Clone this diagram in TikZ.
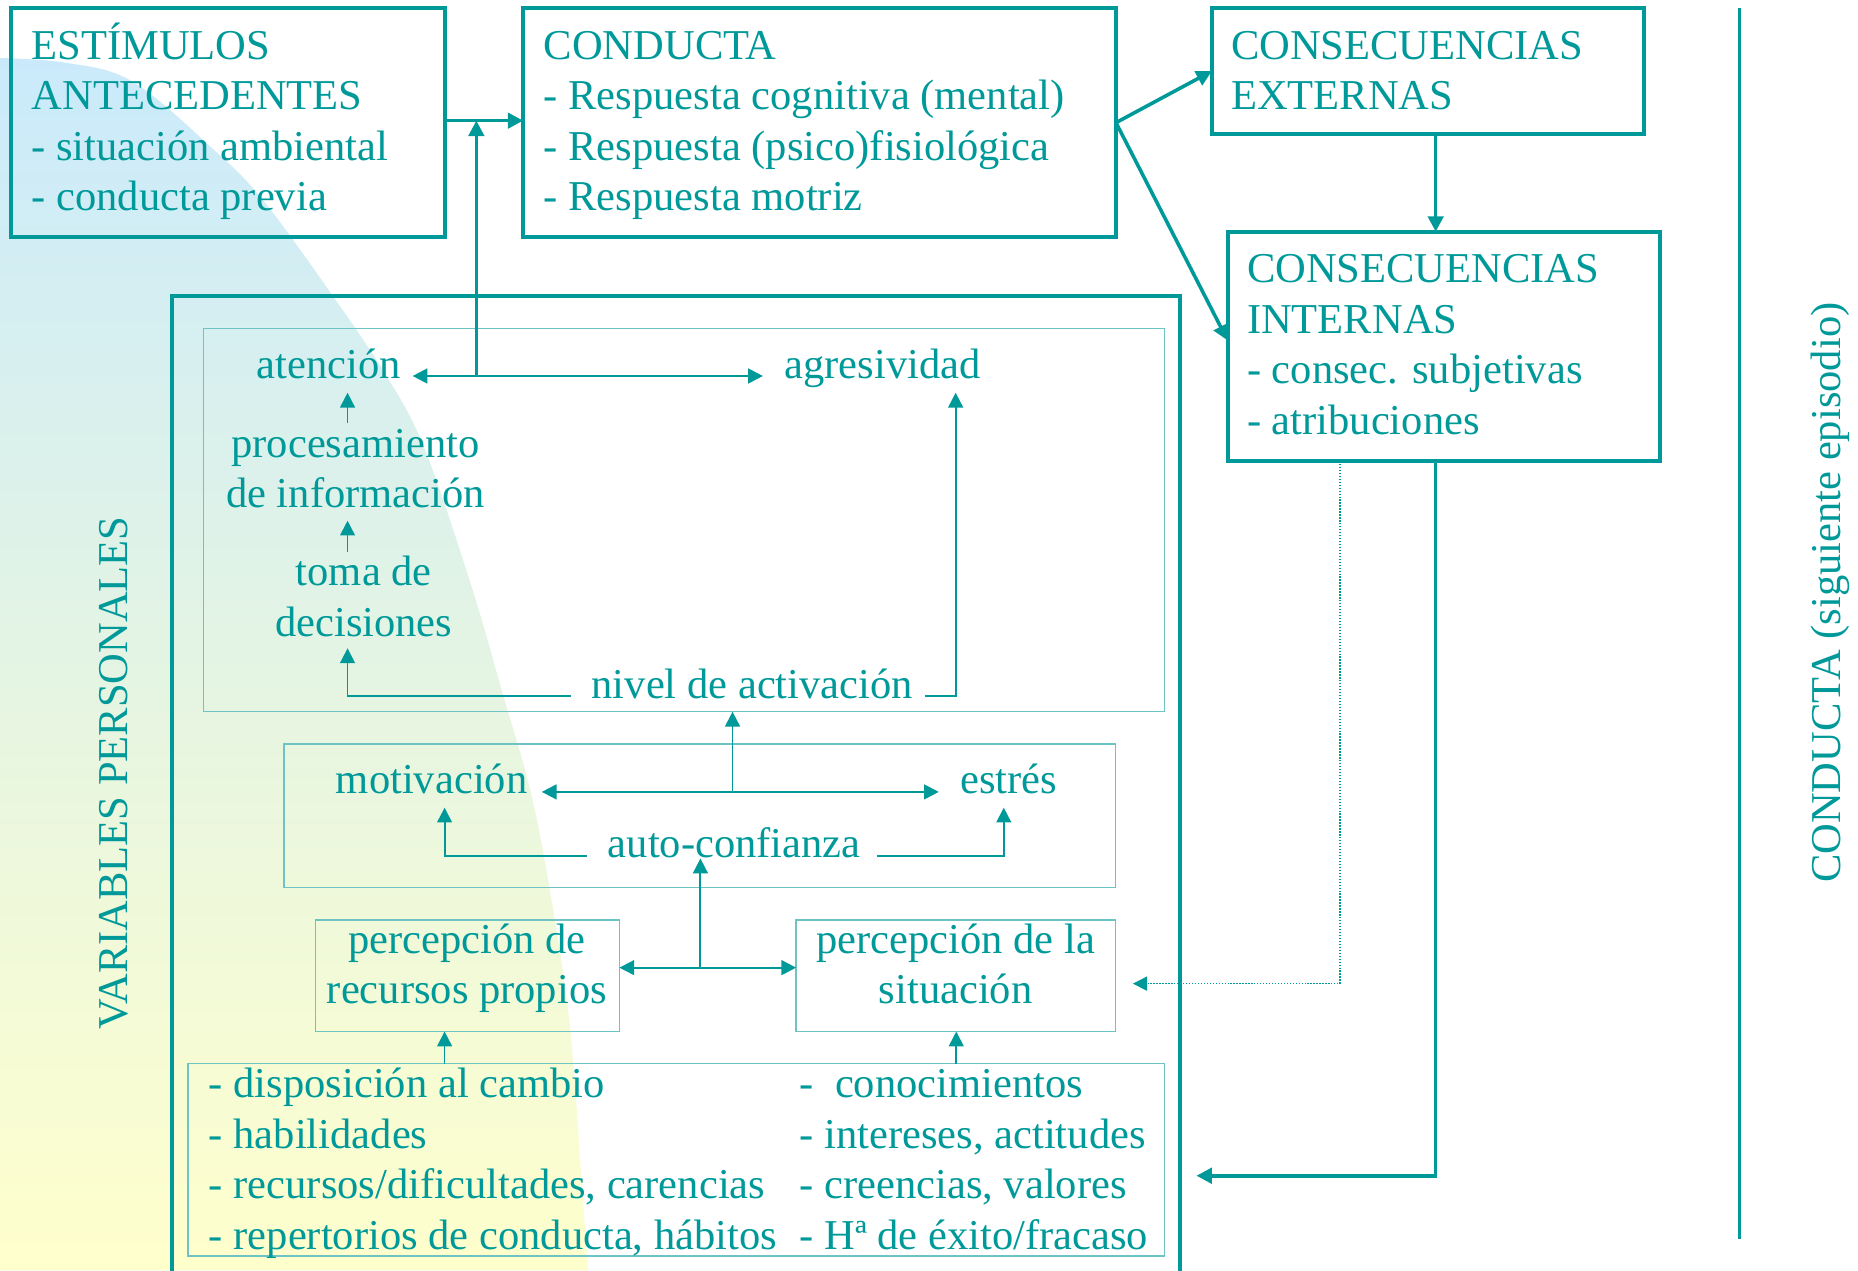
\documentclass[tikz,border=0pt]{standalone}
\usepackage{fontspec}
\setmainfont{Liberation Serif}
\usetikzlibrary{arrows.meta}
\definecolor{tl}{RGB}{0,153,153}
\definecolor{tlL}{RGB}{110,196,196}
\definecolor{bgB}{RGB}{202,234,251}
\definecolor{bgY}{RGB}{255,255,204}
\newcommand\fsz{\fontsize{35.9pt}{42.6pt}\selectfont}
\begin{document}
\begin{tikzpicture}[x=1pt,y=-1pt,
  bx/.style={draw=tl, line width=3.2pt, anchor=north west, inner sep=0pt, outer sep=0pt},
  ibx/.style={draw=tlL, line width=1.2pt, anchor=north west, inner sep=0pt, outer sep=0pt},
  txt/.style={text=tl, font=\fsz, inner sep=0pt, outer sep=0pt},
  arB/.style={draw=tl, line width=3pt, -{Triangle[length=13pt,width=13pt]}},
  arM/.style={draw=tl, line width=2pt, {Triangle[length=12.5pt,width=12.5pt]}-{Triangle[length=12.5pt,width=12.5pt]}},
  arS/.style={draw=tl, line width=1.5pt, -{Triangle[length=12.5pt,width=12.5pt]}},
  arD/.style={draw=tl, line width=1.6pt, {Triangle[length=12.5pt,width=12.5pt]}-{Triangle[length=12.5pt,width=12.5pt]}},
  arDot/.style={draw=tl, line width=1.1pt, dash pattern=on 1.1pt off 1.4pt, -{Triangle[length=12pt,width=12pt]}},
  sep/.style={draw=tl, line width=3pt}
]
\useasboundingbox (0,0) rectangle (1568,1072);
\clip (0,0) rectangle (1568,1072);
\fill[white] (0,0) rectangle (1568,1072);

% background gradient shape
\shade[top color=bgB, bottom color=bgY]
  plot[smooth, tension=0.6] coordinates {(0,49) (56,53) (112,69) (180,126) (222,169) (281,250) (326,317) (358,378) (397,492) (425,588) (446,661) (461,734) (480,858) (491,999) (496,1072)}
  -- (0,1072) -- cycle;

% main boxes
\node[bx, minimum width=366pt, minimum height=193pt] (b1) at (9.4,7) {};
\node[bx, minimum width=500.3pt, minimum height=193pt] (b2) at (441.5,7) {};
\node[bx, minimum width=365pt, minimum height=106pt] (b3) at (1022.7,7) {};
\node[bx, minimum width=365pt, minimum height=193.5pt] (b4) at (1036,195.5) {};
\node[bx, minimum width=850.3pt, minimum height=860pt] (vp) at (145.2,249.8) {};

% inner boxes
\node[ibx, minimum width=811pt, minimum height=323.6pt] (i1) at (171.8,277) {};
\node[ibx, minimum width=701.9pt, minimum height=121.3pt] (i2) at (239.6,627.8) {};
\node[ibx, minimum width=256.5pt, minimum height=94.2pt] (i3) at (266.2,776.3) {};
\node[ibx, minimum width=269.6pt, minimum height=94.2pt] (i4) at (671.9,776.3) {};
\node[ibx, minimum width=823.9pt, minimum height=162.4pt] (i5) at (158.8,897.6) {};

% box texts
\node[txt, anchor=base west] (t1) at (26.7,50.1) {\begin{tabular}[t]{@{}l@{}}ESTÍMULOS\\ANTECEDENTES\\- situación ambiental\\- conducta previa\end{tabular}};
\node[txt, anchor=base west] (t2) at (458.9,50.1) {\begin{tabular}[t]{@{}l@{}}CONDUCTA\\- Respuesta cognitiva (mental)\\- Respuesta (psico)fisiológica\\- Respuesta motriz\end{tabular}};
\node[txt, anchor=base west] (t3) at (1039,50.1) {\begin{tabular}[t]{@{}l@{}}CONSECUENCIAS\\EXTERNAS\end{tabular}};
\node[txt, anchor=base west] (t4) at (1052.4,238.5) {\begin{tabular}[t]{@{}l@{}}CONSECUENCIAS\\INTERNAS\\- consec. subjetivas\\- atribuciones\end{tabular}};

% rotated labels
\node[txt, rotate=90, anchor=base west] (vpl) at (107.5,869) {VARIABLES PERSONALES};
\node[txt, rotate=90, anchor=base west] (cnl) at (1553,745) {CONDUCTA (siguiente episodio)};

% inner texts
\node[txt, anchor=base west] (at) at (216.6,319.3) {atención};
\node[txt, anchor=base west] (ag) at (662,319.3) {agresividad};
\node[txt, anchor=base] (pr) at (300,386) {\begin{tabular}[t]{@{}c@{}}procesamiento\\de información\end{tabular}};
\node[txt, anchor=base] (td) at (307,494.5) {\begin{tabular}[t]{@{}c@{}}toma de\\decisiones\end{tabular}};
\node[txt, anchor=base west] (nv) at (499.3,589.3) {nivel de activación};
\node[txt, anchor=base west] (mo) at (283.5,670) {motivación};
\node[txt, anchor=base west] (es) at (810.4,670) {estrés};
\node[txt, anchor=base west] (ac) at (513,724) {auto-confianza};
\node[txt, anchor=base] (pp) at (394,804.5) {\begin{tabular}[t]{@{}c@{}}percepción de\\recursos propios\end{tabular}};
\node[txt, anchor=base] (ps) at (806.5,804.5) {\begin{tabular}[t]{@{}c@{}}percepción de la\\situación\end{tabular}};
\node[txt, anchor=base west] (l1) at (176.3,926.5) {\begin{tabular}[t]{@{}l@{}}- disposición al cambio\\- habilidades\\- recursos/dificultades, carencias\\- repertorios de conducta, hábitos\end{tabular}};
\node[txt, anchor=base west] (l2) at (674.8,926.5) {\begin{tabular}[t]{@{}l@{}}-~~conocimientos\\- intereses, actitudes\\- creencias, valores\\- Hª de éxito/fracaso\end{tabular}};

% separator line on the right
\coordinate (r1) at (1468,7);
\coordinate (r2) at (1468,1046);
\draw[sep] (r1) -- (r2);

% main connectors
\coordinate (j1) at (402,101.8);
\coordinate (j2) at (402,317.3);
\draw[arB] (b1.east|-j1) -- (b2.west|-j1);
\draw[arB, line width=2.8pt] (j2) -- (j1);
\draw[arM] ([xshift=10pt]at.east|-j2) -- ([xshift=-18.2pt]ag.west|-j2);
\draw[arB] (b2.east) -- (b3.west);
\draw[arB] (b2.east) -- ([yshift=5pt]b4.west);
\coordinate (x5) at (1211.6,0);
\draw[arB] (b3.south-|x5) -- (b4.north-|x5);
\coordinate (fb) at (1009.7,992.2);
\draw[arB] (b4.south-|x5) |- (fb);
\coordinate (x7) at (1130.9,0);
\coordinate (db) at (956.1,830.1);
\draw[arDot] (b4.south-|x7) |- (db);

% inner connectors
\coordinate (p1a) at (293.3,357.2); \coordinate (p1b) at (293.3,331.4);
\coordinate (p2a) at (293.3,465.5); \coordinate (p2b) at (293.3,439.4);
\coordinate (n1a) at (481.5,587.3); \coordinate (n1b) at (293.3,547.1);
\coordinate (n2a) at (780.6,587.3); \coordinate (n2b) at (806.5,331.4);
\draw[arS] (p1a) -- (p1b);
\draw[arS] (p2a) -- (p2b);
\draw[arS] (n1a) -| (n1b);
\draw[arS] (n2a) -| (n2b);

\coordinate (m1a) at (457.2,668.3); \coordinate (m1b) at (792.3,668.3);
\coordinate (m0) at (618.2,668.3);
\draw[arD] (m1a) -- (m1b);
\draw[arS, line width=1.6pt] (m0) -- (i1.south-|m0);
\coordinate (c1a) at (495,722.1); \coordinate (c1b) at (375.2,681.6);
\coordinate (c2a) at (739.7,722.1); \coordinate (c2b) at (847.1,681.6);
\draw[arS, line width=1.6pt] (c1a) -| (c1b);
\draw[arS, line width=1.6pt] (c2a) -| (c2b);

\coordinate (q0) at (591.1,816.6); \coordinate (q1) at (591.1,724.5);
\draw[arD] (i3.east|-q0) -- (i4.west|-q0);
\draw[arS, line width=1.6pt] (q0) -- (q1);
\coordinate (u1) at (375.2,0); \coordinate (u2) at (807,0);
\draw[arS] (i5.north-|u1) -- (i3.south-|u1);
\draw[arS] (i5.north-|u2) -- (i4.south-|u2);
\end{tikzpicture}
\end{document}
